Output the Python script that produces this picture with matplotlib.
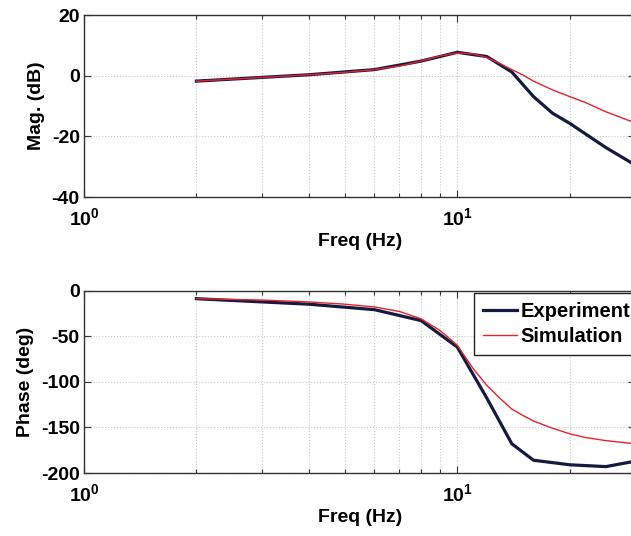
import matplotlib
matplotlib.use("Agg")
import matplotlib.pyplot as plt
from matplotlib.ticker import LogLocator, NullFormatter
import numpy as np

plt.rcParams['font.family'] = ['Liberation Sans', 'DejaVu Sans']
plt.rcParams['mathtext.fontset'] = 'custom'
plt.rcParams['mathtext.rm'] = 'Liberation Sans'
plt.rcParams['mathtext.bf'] = 'Liberation Sans:bold'

# Experiment data
exp_freq = [2, 4, 6, 8, 10, 12, 14, 16, 18, 20, 25, 30]
exp_mag = [-1.8, 0.3, 2.0, 4.8, 7.7, 6.3, 1.2, -6.9, -12.4, -15.7, -23.7, -29.5]
exp_phase_freq = [2, 4, 6, 8, 10, 12, 14, 16, 20, 25, 30]
exp_phase = [-9, -15, -21, -33, -62, -118, -168, -186, -191, -193, -187]

# Simulation data
sim_freq = [2, 3, 4, 5, 6, 7, 8, 9, 10, 11, 12, 13, 14, 15, 16, 18, 20, 22, 25, 30]
sim_mag = [-1.8, -0.6, 0.3, 1.1, 2.0, 3.2, 4.8, 6.5, 7.5, 7.2, 6.0, 4.0, 2.0, 0.2,
           -1.8, -4.7, -6.9, -8.8, -11.9, -15.6]
sim_phase = [-9, -10.5, -12.5, -15, -18, -23, -31, -44, -60, -85, -104, -118, -130,
             -137, -143, -151, -157, -161, -164.5, -168]

mag_ticks = [-40, -20, 0, 20]
phase_ticks = [-200, -150, -100, -50, 0]
x_ticks = [1, 10]
x_ticklabels = [r'$\mathbf{10^0}$', r'$\mathbf{10^1}$']

W, H = 631, 536
fig = plt.figure(figsize=(W / 100, H / 100), dpi=100)

left = 84 / W
width = (635.4 - 84) / W
ax1 = fig.add_axes([left, 1 - 197 / H, width, (197 - 15) / H])
ax2 = fig.add_axes([left, 1 - 473 / H, width, (473 - 290.5) / H])

exp_color = '#151a40'
sim_color = '#e8202a'
grid_color = '#c8c8c8'

def style(ax, yticks, ylim, ylabel):
    ax.set_xscale('log')
    ax.set_xlim(1, 30)
    ax.set_ylim(*ylim)
    ax.set_yticks(yticks)
    ax.set_yticklabels([str(t) for t in yticks], fontweight='bold')
    ax.set_xticks(x_ticks)
    ax.set_xticklabels(x_ticklabels)
    ax.xaxis.set_minor_locator(LogLocator(base=10, subs=np.arange(2, 10)))
    ax.xaxis.set_minor_formatter(NullFormatter())
    ax.tick_params(which='both', direction='in', top=True, right=True,
                   labelsize=14, color='#333333', width=0.8)
    ax.tick_params(which='major', length=5, pad=3)
    ax.tick_params(which='minor', length=3)
    ax.tick_params(axis='x', pad=7)
    ax.grid(True, which='major', axis='both', linestyle=':', color=grid_color, linewidth=0.8)
    ax.grid(True, which='minor', axis='x', linestyle=':', color=grid_color, linewidth=0.8)
    for sp in ax.spines.values():
        sp.set_color('#333333')
        sp.set_linewidth(1.0)
    ax.set_xlabel('Freq (Hz)', fontsize=14, fontweight='bold', labelpad=3)
    ax.set_ylabel(ylabel, fontsize=14, fontweight='bold', labelpad=5)

ax1.plot(sim_freq, sim_mag, color=sim_color, linewidth=1.0, zorder=3)
ax1.plot(exp_freq, exp_mag, color=exp_color, linewidth=2.3, zorder=2)
style(ax1, mag_ticks, (-40, 20), 'Mag. (dB)')

l1, = ax2.plot(exp_phase_freq, exp_phase, color=exp_color, linewidth=2.3, zorder=2,
               label='Experiment')
l2, = ax2.plot(sim_freq, sim_phase, color=sim_color, linewidth=1.0, zorder=3,
               label='Simulation')
style(ax2, phase_ticks, (-200, 0), 'Phase (deg)')

leg = ax2.legend(handles=[l1, l2], loc='upper left',
                 bbox_to_anchor=(474 / W, 1 - 293 / H), bbox_transform=fig.transFigure,
                 prop={'weight': 'bold', 'size': 14.5},
                 frameon=True, fancybox=False, borderaxespad=0,
                 handlelength=1.7, handletextpad=0.15, borderpad=0.45,
                 labelspacing=0.3)
leg.get_frame().set_edgecolor('#222222')
leg.get_frame().set_linewidth(1.0)
leg.get_frame().set_alpha(1)

fig.savefig('out.png', dpi=100)
